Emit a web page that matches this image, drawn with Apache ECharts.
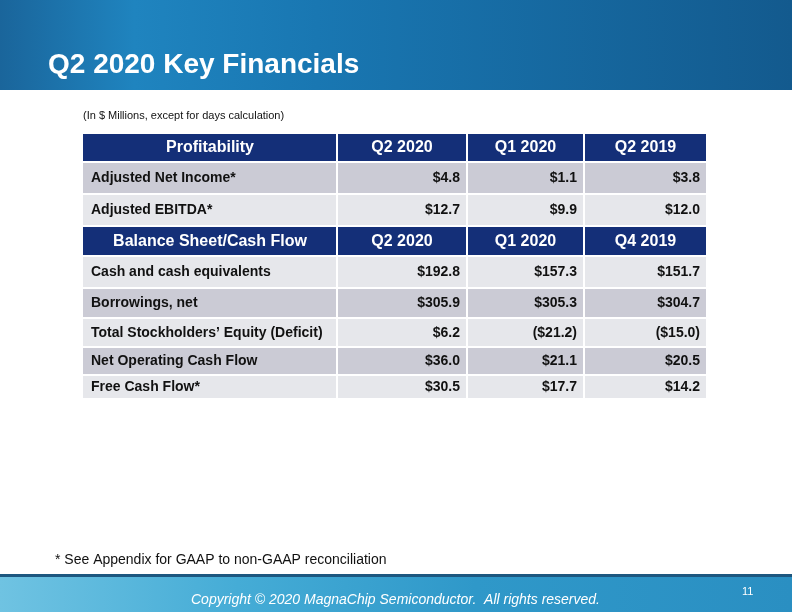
<!DOCTYPE html>
<html><head><meta charset="utf-8">
<style>html,body{margin:0;padding:0;background:#fff}#c{width:792px;height:612px}</style>
<script src="https://cdn.jsdelivr.net/npm/echarts@6/dist/echarts.min.js"></script>
</head><body><div id="c"></div>
<script>
// ---- data ----
const title = 'Q2 2020 Key Financials';
const unitNote = '(In $ Millions, except for days calculation)';
const footnote = '* See Appendix for GAAP to non-GAAP reconciliation';
const copyright = 'Copyright \u00a9 2020 MagnaChip Semiconductor.  All rights reserved.';
const pageNumber = '11';

const profitHeader = ['Profitability', 'Q2 2020', 'Q1 2020', 'Q2 2019'];
const profitRows = ['Adjusted Net Income*', 'Adjusted EBITDA*'];
const profitQ2_2020 = [4.8, 12.7];
const profitQ1_2020 = [1.1, 9.9];
const profitQ2_2019 = [3.8, 12.0];

const balanceHeader = ['Balance Sheet/Cash Flow', 'Q2 2020', 'Q1 2020', 'Q4 2019'];
const balanceRows = ['Cash and cash equivalents', 'Borrowings, net', 'Total Stockholders\u2019 Equity (Deficit)', 'Net Operating Cash Flow', 'Free Cash Flow*'];
const balanceQ2_2020 = [192.8, 305.9, 6.2, 36.0, 30.5];
const balanceQ1_2020 = [157.3, 305.3, -21.2, 21.1, 17.7];
const balanceQ4_2019 = [151.7, 304.7, -15.0, 20.5, 14.2];

// ---- layout (not data) ----
const colWidths = [254, 130, 117, 123];
const rowHeights = [29, 32, 32, 30, 32, 30, 29, 28, 24];
const FONT = '"Liberation Sans", Arial, sans-serif';

function fmt(v) {
  const s = '$' + Math.abs(v).toFixed(1);
  return v < 0 ? '(' + s + ')' : s;
}

// build table rows
const tableRows = [];
tableRows.push({ kind: 'header', cells: profitHeader });
profitRows.forEach((r, i) => tableRows.push({ kind: 'data', shade: i % 2 === 0 ? 'dark' : 'light',
  cells: [r, fmt(profitQ2_2020[i]), fmt(profitQ1_2020[i]), fmt(profitQ2_2019[i])] }));
tableRows.push({ kind: 'header', cells: balanceHeader });
balanceRows.forEach((r, i) => tableRows.push({ kind: 'data', shade: i % 2 === 0 ? 'light' : 'dark',
  cells: [r, fmt(balanceQ2_2020[i]), fmt(balanceQ1_2020[i]), fmt(balanceQ4_2019[i])] }));

const chart = echarts.init(document.getElementById('c'), null, { renderer: 'canvas' });

function renderItem(params, api) {
  const idx = params.dataIndex;
  const row = tableRows[idx];
  const cs = params.coordSys;
  let y0 = cs.y;
  for (let i = 0; i < idx; i++) y0 += rowHeights[i];
  const h = rowHeights[idx];
  const children = [];
  let x0 = cs.x;
  row.cells.forEach((txt, ci) => {
    const w = colWidths[ci];
    const isHeader = row.kind === 'header';
    const fill = isHeader ? '#142f78' : (row.shade === 'dark' ? '#cbcbd5' : '#e6e7eb');
    children.push({ type: 'rect', shape: { x: x0 + (ci === 0 ? 0 : 1), y: y0 + 1, width: w - (ci === 0 ? 1 : 2), height: h - 2 },
      style: { fill: fill } });
    let tx, align;
    if (isHeader) { tx = x0 + w / 2; align = 'center'; }
    else if (ci === 0) { tx = x0 + 8; align = 'left'; }
    else { tx = x0 + w - 7; align = 'right'; }
    children.push({ type: 'text', x: tx, y: y0 + h / 2 + 0.5,
      style: { text: txt, textAlign: align, textVerticalAlign: 'middle',
        font: 'bold ' + (isHeader ? 16 : 14) + 'px ' + FONT,
        fill: isHeader ? '#ffffff' : '#111111' } });
    x0 += w;
  });
  return { type: 'group', children: children };
}

chart.setOption({
  animation: false,
  backgroundColor: '#ffffff',
  grid: { left: 83, top: 133, width: 624, height: 267 },
  xAxis: { type: 'value', min: 0, max: 1, show: false },
  yAxis: { type: 'category', data: tableRows.map((r, i) => i), inverse: true, show: false },
  graphic: [
    { type: 'rect', shape: { x: 0, y: 0, width: 792, height: 90 }, silent: true,
      style: { fill: new echarts.graphic.LinearGradient(0, 0, 1, 0, [
        { offset: 0, color: '#1a659b' }, { offset: 0.17, color: '#1f84bf' },
        { offset: 0.4, color: '#1977b2' }, { offset: 1, color: '#135a8e' }]) } },
    { type: 'text', left: 48, top: 51, style: { text: title, font: 'bold 28px ' + FONT, fill: '#ffffff' } },
    { type: 'text', left: 83, top: 110, style: { text: unitNote, font: '11px ' + FONT, fill: '#111111' } },
    { type: 'text', left: 55, top: 553, style: { text: footnote, font: '14px ' + FONT, fill: '#111111' } },
    { type: 'rect', shape: { x: 0, y: 575, width: 792, height: 37 }, silent: true,
      style: { fill: new echarts.graphic.LinearGradient(0, 0, 1, 0, [
        { offset: 0, color: '#6fc3e2' }, { offset: 0.3, color: '#45acd6' },
        { offset: 0.6, color: '#2f98c9' }, { offset: 1, color: '#2a8fc2' }]) } },
    { type: 'rect', shape: { x: 0, y: 574, width: 792, height: 3 }, silent: true,
      style: { fill: '#1d577f' } },
    { type: 'text', left: 191, top: 593, style: { text: copyright, font: 'italic 14px ' + FONT, fill: '#ffffff' } },
    { type: 'text', left: 742, top: 586, style: { text: pageNumber, font: '11px ' + FONT, fill: '#ffffff' } }
  ],
  series: [{
    type: 'custom',
    renderItem: renderItem,
    data: tableRows.map((r, i) => [0, i]),
    silent: true
  }]
});
</script></body></html>
